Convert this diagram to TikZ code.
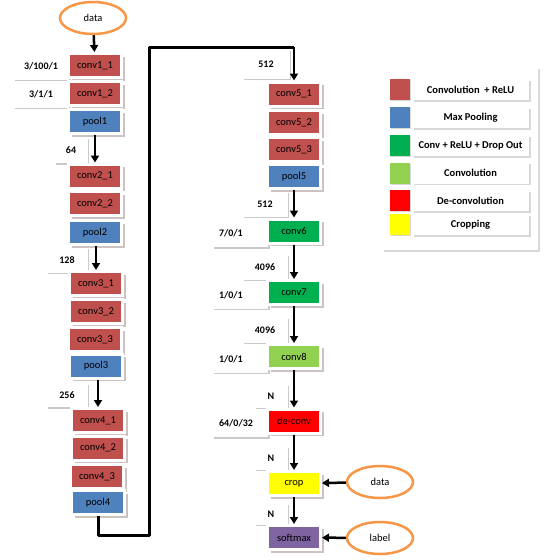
\documentclass[tikz,border=0pt]{standalone}
\usepackage{fontspec}
\setmainfont{Carlito}
\usetikzlibrary{arrows.meta,shadows,shapes.geometric}
\definecolor{convred}{HTML}{C0504D}
\definecolor{poolblue}{HTML}{4F81BD}
\definecolor{dropgreen}{HTML}{00B050}
\definecolor{lightgreen}{HTML}{92D050}
\definecolor{deconvred}{HTML}{FF0000}
\definecolor{cropyellow}{HTML}{FFFF00}
\definecolor{softpurple}{HTML}{8064A2}
\definecolor{ellorange}{HTML}{F79646}
\definecolor{shadowgray}{HTML}{B8A8A8}
\begin{document}
\begin{tikzpicture}[x=1pt,y=-1pt,
  layer/.style={draw=white, line width=3pt, minimum width=53pt, minimum height=24pt,
    inner sep=0pt, text=black, font=\fontsize{10.5}{12}\selectfont,
    drop shadow={shadow xshift=3pt, shadow yshift=-3pt, fill=shadowgray, opacity=0.7}},
  numbox/.style={fill=white, inner sep=0pt, text=black, font=\bfseries\fontsize{10}{12}\selectfont,
    drop shadow={shadow xshift=1.5pt, shadow yshift=-1.5pt, fill=black!35, opacity=0.6}},
  sidebox/.style={numbox, minimum width=56pt, minimum height=27pt},
  rsidebox/.style={numbox, minimum height=27pt, text width=42pt, align=left, inner xsep=7pt},
  ell/.style={ellipse, draw=ellorange, line width=2.5pt, fill=white, minimum width=66pt,
    minimum height=32pt, inner sep=0pt, text=black, font=\fontsize{10.5}{12}\selectfont},
  flow/.style={line width=2.5pt, -{Triangle[length=7pt,width=8pt]}},
  loopline/.style={line width=3pt, line join=round},
  swatch/.style={minimum width=20pt, minimum height=21pt, inner sep=0pt,
    drop shadow={shadow xshift=1pt, shadow yshift=-1pt, fill=black!30, opacity=0.5}},
  legcell/.style={fill=white, minimum width=117pt, minimum height=21pt, inner sep=0pt,
    text=black, font=\bfseries\fontsize{10.5}{12}\selectfont,
    drop shadow={shadow xshift=1.5pt, shadow yshift=-1.5pt, fill=black!30, opacity=0.5}}
]
\useasboundingbox (0,0) rectangle (550,560);

% ---------- left side label boxes ----------
\node[sidebox] (l11) at (41,66) {3/100/1};
\node[sidebox] (l12) at (41,94) {3/1/1};
\node[numbox, minimum width=33pt, minimum height=26pt] (n64) at (71,150) {64};
\node[numbox, minimum width=41pt, minimum height=25pt] (n128) at (67,260) {128};
\node[numbox, minimum width=41pt, minimum height=24pt] (n256) at (67,395) {256};

% ---------- left column layers ----------
\node[layer, fill=convred]  (c11) at (95,65.5)  {conv1\_1};
\node[layer, fill=convred]  (c12) at (95,93.5)  {conv1\_2};
\node[layer, fill=poolblue] (p1)  at (95,121.5) {pool1};
\node[layer, fill=convred]  (c21) at (95,176)   {conv2\_1};
\node[layer, fill=convred]  (c22) at (95,203.5) {conv2\_2};
\node[layer, fill=poolblue] (p2)  at (95,232.5) {pool2};
\node[layer, fill=convred]  (c31) at (96,283.5) {conv3\_1};
\node[layer, fill=convred]  (c32) at (96,311.5) {conv3\_2};
\node[layer, fill=convred]  (c33) at (95,339.5) {conv3\_3};
\node[layer, fill=poolblue] (p3)  at (96,366)   {pool3};
\node[layer, fill=convred]  (c41) at (98,420.5) {conv4\_1};
\node[layer, fill=convred]  (c42) at (98,448)   {conv4\_2};
\node[layer, fill=convred]  (c43) at (97,476.5) {conv4\_3};
\node[layer, fill=poolblue] (p4)  at (98,502.5) {pool4};

\node[ell] (dataA) at (93,18) {data};

% ---------- right side label boxes ----------
\node[numbox, minimum width=47pt, minimum height=29pt] (n512a) at (266,64) {512};
\node[numbox, minimum width=45pt, minimum height=25pt] (n512b) at (265,204) {512};
\node[rsidebox] (l6) at (240,233.5) {7/0/1};
\node[numbox, minimum width=45pt, minimum height=25pt] (n4096a) at (265,267) {4096};
\node[rsidebox] (l7) at (240,295) {1/0/1};
\node[numbox, minimum width=45pt, minimum height=25pt] (n4096b) at (265,330) {4096};
\node[rsidebox] (l8) at (240,359) {1/0/1};
\node[numbox, minimum width=33pt, minimum height=23pt] (nN1) at (271,396) {N};
\node[rsidebox] (l9) at (240,423.5) {64/0/32};
\node[numbox, minimum width=33pt, minimum height=23pt] (nN2) at (271,458) {N};
\node[numbox, minimum width=33pt, minimum height=21pt] (nN3) at (271,514) {N};

% ---------- right column layers ----------
\node[layer, fill=convred]     (c51) at (294,94)    {conv5\_1};
\node[layer, fill=convred]     (c52) at (294,122.5) {conv5\_2};
\node[layer, fill=convred]     (c53) at (294,149.5) {conv5\_3};
\node[layer, fill=poolblue]    (p5)  at (294,176.5) {pool5};
\node[layer, fill=dropgreen]   (c6)  at (294,231)   {conv6};
\node[layer, fill=dropgreen]   (c7)  at (294,292.5) {conv7};
\node[layer, fill=lightgreen]  (c8)  at (294,356.5) {conv8};
\node[layer, fill=deconvred]   (dc)  at (294,421)   {de-conv};
\node[layer, fill=cropyellow]  (cr)  at (294,483.5) {crop};
\node[layer, fill=softpurple]  (sm)  at (294,537.5) {softmax};

\node[ell] (dataB) at (380,482) {data};
\node[ell] (lab)   at (380,538) {label};

% ---------- connectors ----------
\draw[flow] (dataA) -- (c11);
\draw[flow] (p1) -- (c21);
\draw[flow] (p2.south -| c31.north) -- (c31);
\draw[flow] (p3.south -| c41.north) -- (c41);
\coordinate (lp1) at (98,535);
\coordinate (lp2) at (149,535);
\coordinate (lp3) at (149,47);
\coordinate (lp4) at (294,47);
\draw[loopline] (p4.south) -- (lp1) -- (lp2) -- (lp3) -- (lp4);
\draw[flow] (lp4) -- (c51.north);
\draw[flow] (p5) -- (c6);
\draw[flow] (c6) -- (c7);
\draw[flow] (c7) -- (c8);
\draw[flow] (c8) -- (dc);
\draw[flow] (dc) -- (cr);
\draw[flow] (cr) -- (sm);
\draw[flow] (dataB) -- (cr);
\draw[flow] (lab) -- (sm);

% ---------- legend ----------
\node[fill=white, minimum width=156pt, minimum height=183pt, inner sep=0pt,
  drop shadow={shadow xshift=2pt, shadow yshift=-2pt, fill=black!30, opacity=0.5}]
  (legend) at (460,158.5) {};
\node[swatch, fill=convred]    (s1) at (400,89.5)  {};
\node[swatch, fill=poolblue]   (s2) at (400,117.5) {};
\node[swatch, fill=dropgreen]  (s3) at (400,145.5) {};
\node[swatch, fill=lightgreen] (s4) at (400,173)   {};
\node[swatch, fill=deconvred]  (s5) at (400,200.5) {};
\node[swatch, fill=cropyellow] (s6) at (400,224.5) {};
\node[legcell] (t1) at (470.5,89.5)  {Convolution \ + ReLU};
\node[legcell] (t2) at (470.5,117.5) {Max Pooling};
\node[legcell] (t3) at (470.5,145.5) {Conv + ReLU + Drop Out};
\node[legcell] (t4) at (470.5,173)   {Convolution};
\node[legcell] (t5) at (470.5,200.5) {De-convolution};
\node[legcell] (t6) at (470.5,224.5) {Cropping};
\end{tikzpicture}
\end{document}
